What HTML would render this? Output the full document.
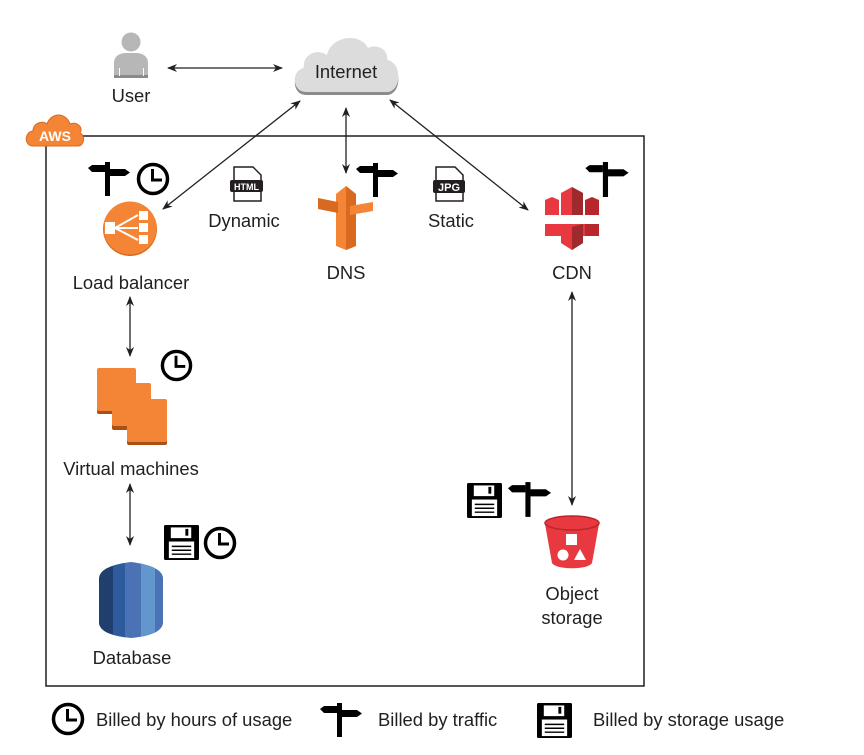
<!DOCTYPE html>
<html><head><meta charset="utf-8"><style>
html,body{margin:0;padding:0;background:#fff;}
svg{display:block;}
text{font-family:"Liberation Sans",Arial,sans-serif;fill:#231f20;}
</style></head><body>
<svg width="864" height="755" viewBox="0 0 864 755" xmlns="http://www.w3.org/2000/svg">
<defs>
<marker id="a" markerWidth="10" markerHeight="8" refX="9" refY="4" orient="auto-start-reverse" markerUnits="userSpaceOnUse">
<path d="M0,0 L10,4 L0,8 L3,4 Z" fill="#231f20"/></marker>
<symbol id="traffic" viewBox="0 0 42 34">
<rect x="17" y="0" width="5" height="34" fill="#000"/>
<polygon points="0,6 4,3 17,3 17,10 4,10" fill="#000"/>
<polygon points="22,7 37,7 42,10.5 37,14 22,14" fill="#000"/>
</symbol>
<symbol id="clock" viewBox="0 0 34 34">
<circle cx="17" cy="17" r="14.5" fill="#fff" stroke="#000" stroke-width="3.5"/>
<path d="M16.5,7 V18 H26" fill="none" stroke="#000" stroke-width="3"/>
</symbol>
<symbol id="floppy" viewBox="0 0 36 36">
<rect x="0" y="0" width="36" height="36" rx="1.5" fill="#000"/>
<rect x="7" y="2.5" width="21" height="11" fill="#fff"/>
<rect x="22" y="4" width="3" height="7" fill="#000"/>
<rect x="5" y="17" width="26" height="17" fill="#fff"/>
<path d="M8,22 H28 M8,26 H28 M8,30 H28" stroke="#000" stroke-width="1.5"/>
</symbol>
</defs>

<rect x="46" y="136" width="598" height="550" fill="none" stroke="#231f20" stroke-width="1.5"/>
<g>
<path d="M33,146 C24,146 24,132 33,131 C33,123 43,120 47,124 C51,112 66,112 70,124 C76,121 84,127 80,133 C86,136 84,146 78,146 Z" fill="#f58536" stroke="#d9691f" stroke-width="1"/>
<text x="55" y="141" font-size="14" font-weight="bold" text-anchor="middle" style="fill:#fff">AWS</text>
</g>

<g fill="#b7b7b7">
<circle cx="131" cy="42" r="9.5"/>
<path d="M114,78 V63 C114,56 120,53 126,53 H136 C142,53 148,56 148,63 V78 Z"/>
<rect x="114" y="75" width="34" height="3" fill="#8a8a8a"/>
<rect x="119" y="68" width="1" height="8" fill="#fff"/>
<rect x="143" y="68" width="1" height="8" fill="#fff"/>
</g>
<text x="131" y="102" font-size="18.4" text-anchor="middle">User</text>

<path d="M306,92 C292,92 291,70 304,68 C302,54 318,48 327,55 C331,36 360,32 368,48 C377,43 389,50 387,60 C402,62 402,90 388,92 Z" fill="#8c8c8c" transform="translate(0,3)"/>
<path d="M306,92 C292,92 291,70 304,68 C302,54 318,48 327,55 C331,36 360,32 368,48 C377,43 389,50 387,60 C402,62 402,90 388,92 Z" fill="#dcdcdc"/>
<text x="346" y="78" font-size="18.4" text-anchor="middle">Internet</text>

<g stroke="#231f20" stroke-width="1.3" fill="none">
<line x1="168" y1="68" x2="282" y2="68" marker-start="url(#a)" marker-end="url(#a)"/>
<line x1="300" y1="101" x2="163" y2="209" marker-start="url(#a)" marker-end="url(#a)"/>
<line x1="346" y1="108" x2="346" y2="173" marker-start="url(#a)" marker-end="url(#a)"/>
<line x1="390" y1="100" x2="528" y2="210" marker-start="url(#a)" marker-end="url(#a)"/>
<line x1="130" y1="297" x2="130" y2="356" marker-start="url(#a)" marker-end="url(#a)"/>
<line x1="130" y1="484" x2="130" y2="545" marker-start="url(#a)" marker-end="url(#a)"/>
<line x1="572" y1="292" x2="572" y2="505" marker-start="url(#a)" marker-end="url(#a)"/>
</g>

<use href="#traffic" x="88" y="162" width="42" height="34"/>
<use href="#clock" x="136" y="162" width="34" height="34"/>
<circle cx="130" cy="229" r="27" fill="#d9691f"/>
<circle cx="130" cy="228" r="26.5" fill="#f58536"/>
<g fill="#fff" stroke="#fff" stroke-width="2">
<rect x="105" y="222" width="10" height="12" stroke="none"/>
<rect x="139" y="211" width="9" height="9" stroke="none"/>
<rect x="139" y="223" width="9" height="9" stroke="none"/>
<rect x="139" y="235" width="9" height="9" stroke="none"/>
<path d="M115,228 L138,215 M115,228 L138,228 M115,228 L138,240" fill="none"/>
</g>
<text x="131" y="289" font-size="18.4" text-anchor="middle">Load balancer</text>

<path d="M234,167 H253 L261,175 V201 H234 Z" fill="#fff" stroke="#231f20" stroke-width="1.5"/>
<rect x="230" y="180" width="33" height="12" rx="2" fill="#231f20"/>
<text x="246.5" y="190" font-size="9" font-weight="bold" text-anchor="middle" style="fill:#fff">HTML</text>
<text x="244" y="227" font-size="18.4" text-anchor="middle">Dynamic</text>

<use href="#traffic" x="355" y="163" width="44" height="34"/>
<polygon points="336,194 346,186 356,194 356,246 346,250 336,246" fill="#f58536"/>
<polygon points="346,186 356,194 356,246 346,250" fill="#d9691f"/>
<polygon points="318,198 338,202 338,213 318,209" fill="#d9691f"/>
<polygon points="350,206 373,202 373,211 350,215" fill="#f58536"/>
<text x="346" y="279" font-size="18.4" text-anchor="middle">DNS</text>

<path d="M436,167 H455 L463,175 V201 H436 Z" fill="#fff" stroke="#231f20" stroke-width="1.5"/>
<rect x="433" y="180" width="32" height="13" rx="2" fill="#231f20"/>
<text x="449" y="191" font-size="11" font-weight="bold" text-anchor="middle" style="fill:#fff">JPG</text>
<text x="451" y="227" font-size="18.4" text-anchor="middle">Static</text>

<use href="#traffic" x="585" y="162" width="44" height="35"/>
<g>
<polygon points="545,200 552,197 559,200 559,215 545,215" fill="#e7393f"/>
<polygon points="561,193 572,187 583,193 583,215 561,215" fill="#e7393f"/>
<polygon points="572,187 583,193 583,215 572,215" fill="#9e2a2e"/>
<polygon points="585,200 592,197 599,200 599,215 585,215" fill="#b9262c"/>
<polygon points="545,224 599,224 599,236 583,236 583,243 572,250 561,243 561,236 545,236" fill="#e7393f"/>
<polygon points="572,227 583,224 583,243 572,250" fill="#9e2a2e"/>
<polygon points="585,224 599,224 599,236 585,236" fill="#b9262c"/>
</g>
<text x="572" y="279" font-size="18.4" text-anchor="middle">CDN</text>

<use href="#clock" x="160" y="349" width="33" height="33"/>
<rect x="97" y="370" width="39" height="44" rx="2" fill="#a94f1a"/>
<rect x="97" y="368" width="39" height="43" rx="2" fill="#f58536"/>
<rect x="112" y="386" width="39" height="44" rx="2" fill="#a94f1a"/>
<rect x="112" y="383" width="39" height="43" rx="2" fill="#f58536"/>
<rect x="127" y="401" width="40" height="44" rx="2" fill="#a94f1a"/>
<rect x="127" y="399" width="40" height="43" rx="2" fill="#f58536"/>
<text x="131" y="475" font-size="18.4" text-anchor="middle">Virtual machines</text>

<use href="#floppy" x="164" y="525" width="35" height="35"/>
<use href="#clock" x="203" y="526" width="34" height="34"/>
<clipPath id="dbc"><path d="M99,578 Q100,566 131,562 Q162,566 163,578 V623 Q162,635 131,638 Q100,635 99,623 Z"/></clipPath>
<g clip-path="url(#dbc)">
<rect x="99" y="560" width="64" height="80" fill="#4a72b5"/>
<rect x="99" y="560" width="14" height="80" fill="#203e6e"/>
<rect x="113" y="560" width="12" height="80" fill="#2e5a9e"/>
<rect x="141" y="560" width="14" height="80" fill="#6296cc"/>
</g>
<text x="132" y="664" font-size="18.4" text-anchor="middle">Database</text>

<use href="#floppy" x="467" y="483" width="35" height="35"/>
<use href="#traffic" x="508" y="482" width="43" height="35"/>
<path d="M545,524 L552,563 C556,570 588,570 592,563 L599,524 Z" fill="#e7393f"/>
<ellipse cx="572" cy="523" rx="27" ry="7" fill="#e7393f" stroke="#b9262c" stroke-width="1.5"/>
<rect x="566" y="534" width="11" height="11" fill="#fff"/>
<circle cx="563" cy="555" r="5.5" fill="#fff"/>
<polygon points="580,549 586,560 574,560" fill="#fff"/>
<text x="572" y="600" font-size="18.4" text-anchor="middle">Object</text>
<text x="572" y="624" font-size="18.4" text-anchor="middle">storage</text>

<use href="#clock" x="51" y="702" width="34" height="34"/>
<text x="96" y="726" font-size="18.4">Billed by hours of usage</text>
<use href="#traffic" x="320" y="703" width="42" height="34"/>
<text x="378" y="726" font-size="18.4">Billed by traffic</text>
<use href="#floppy" x="537" y="703" width="35" height="35"/>
<text x="593" y="726" font-size="18.4">Billed by storage usage</text>
</svg>
</body></html>
